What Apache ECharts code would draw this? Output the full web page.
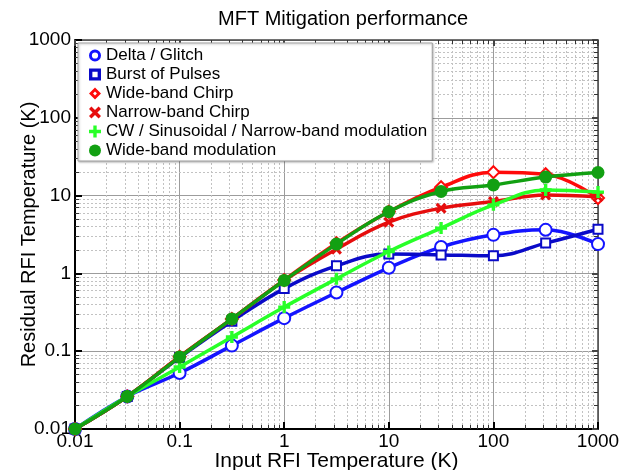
<!DOCTYPE html>
<html>
<head>
<meta charset="utf-8">
<script src="https://cdn.jsdelivr.net/npm/echarts@6/dist/echarts.min.js"></script>
<style>
  html, body { margin: 0; padding: 0; background: #fff; }
  #chart { width: 621px; height: 470px; }
</style>
</head>
<body>
<div id="chart"></div>
<script>
// Input RFI temperature (K) at which each detector was evaluated
const inputTemps = [0.01, 0.0316, 0.1, 0.316, 1, 3.16, 10, 31.6, 100, 316, 1000];

// Residual RFI temperature (K) after mitigation, one list per RFI type
const deltaGlitch    = [0.01, 0.0262, 0.0524, 0.118, 0.266, 0.568, 1.18, 2.18, 3.13, 3.63, 2.38];
const burstPulses    = [0.01, 0.0262, 0.083, 0.243, 0.638, 1.25, 1.77, 1.73, 1.68, 2.45, 3.70];
const wideChirp      = [0.01, 0.0262, 0.085, 0.26, 0.82, 2.45, 6.2, 12.8, 20.0, 18.8, 9.3];
const narrowChirp    = [0.01, 0.0262, 0.085, 0.26, 0.81, 2.05, 4.56, 6.89, 8.38, 10.2, 9.7];
const cwSinusoidal   = [0.01, 0.0262, 0.0626, 0.152, 0.369, 0.852, 1.91, 3.82, 7.6, 11.8, 11.1];
const wideModulation = [0.01, 0.0262, 0.084, 0.26, 0.81, 2.38, 6.2, 11.3, 13.7, 17.3, 19.8];

const seriesNames = [
  'Delta / Glitch',
  'Burst of Pulses',
  'Wide-band Chirp',
  'Narrow-band Chirp',
  'CW / Sinusoidal / Narrow-band modulation',
  'Wide-band modulation'
];

// Decade starts and in-between multipliers for the dotted minor grid
const decades = [0.01, 0.1, 1, 10, 100];
const minorSteps = [2, 3, 4, 5, 6, 7, 8, 9];
const tickLabels = { '0.01': '0.01', '0.1': '0.1', '1': '1', '10': '10', '100': '100', '1000': '1000' };

const FONT = 'Liberation Sans, Arial, sans-serif';

// Marker shapes (filled outlines so the legend shows bold hollow symbols)
const CROSS = 'path://M0,2 L2,0 L5,3 L8,0 L10,2 L7,5 L10,8 L8,10 L5,7 L2,10 L0,8 L3,5 Z';
const PLUS = 'path://M3.6,0 H6.4 V3.6 H10 V6.4 H6.4 V10 H3.6 V6.4 H0 V3.6 H3.6 Z';
const RING = 'path://M5,0 A5,5 0 1,1 5,10 A5,5 0 1,1 5,0 Z M5,2.4 A2.6,2.6 0 1,0 5,7.6 A2.6,2.6 0 1,0 5,2.4 Z';
const SQUARE_RING = 'path://M0,0 H10 V10 H0 Z M2.8,2.8 V7.2 H7.2 V2.8 Z';
const DIAMOND_RING = 'path://M5,-0.6 L10.6,5 L5,10.6 L-0.6,5 Z M5,3.2 L3.2,5 L5,6.8 L6.8,5 Z';

function pairs(ys) { return inputTemps.map((x, i) => [x, ys[i]]); }

function fmt(v) {
  const key = String(+v.toPrecision(6));
  return tickLabels[key] !== undefined ? tickLabels[key] : '';
}

const minorValues = [];
decades.forEach(d => minorSteps.forEach(m => minorValues.push(+(d * m).toPrecision(6))));

const gridLines = [];
minorValues.forEach(v => { gridLines.push({ xAxis: v }); gridLines.push({ yAxis: v }); });

function makeSeries(name, ys, color, symbol, size, borderWidth, z) {
  return {
    name: name,
    type: 'line',
    data: pairs(ys),
    smooth: 0.4,
    symbol: symbol,
    symbolSize: size,
    showSymbol: true,
    z: z,
    lineStyle: { color: color, width: 3.5 },
    itemStyle: { color: color, borderColor: color, borderWidth: borderWidth }
  };
}

const chart = echarts.init(document.getElementById('chart'), null, { renderer: 'canvas' });

const mainAxisLine = { show: true, lineStyle: { color: '#000', width: 2 } };
const frameAxisLine = { show: true, lineStyle: { color: '#444', width: 1.5 } };
const minorTickStyle = { show: true, splitNumber: 9, length: 4, lineStyle: { color: '#333', width: 1 } };

const legendIcon = (name, icon) => ({ name: name, icon: icon, itemStyle: { borderWidth: 0 } });

chart.setOption({
  animation: false,
  backgroundColor: '#fff',
  textStyle: { fontFamily: FONT },
  title: {
    text: 'MFT Mitigation performance',
    left: 218,
    top: 9,
    padding: 0,
    textStyle: { fontSize: 20, fontWeight: 'normal', color: '#000', fontFamily: FONT }
  },
  grid: { left: 75, right: 23, top: 40, bottom: 41, containLabel: false, outerBoundsMode: 'none' },
  legend: {
    orient: 'vertical',
    left: 78,
    top: 43,
    padding: [3, 5, 1, 11],
    itemWidth: 12,
    itemHeight: 12,
    itemGap: 0,
    backgroundColor: '#fff',
    borderColor: '#a0a0a0',
    borderWidth: 1,
    shadowColor: 'rgba(0,0,0,0.25)',
    shadowBlur: 2,
    shadowOffsetX: 1,
    shadowOffsetY: 1,
    textStyle: { fontSize: 17, lineHeight: 19, color: '#000', fontFamily: FONT },
    data: [
      legendIcon(seriesNames[0], RING),
      legendIcon(seriesNames[1], SQUARE_RING),
      legendIcon(seriesNames[2], DIAMOND_RING),
      legendIcon(seriesNames[3], CROSS),
      legendIcon(seriesNames[4], PLUS),
      legendIcon(seriesNames[5], 'circle')
    ]
  },
  xAxis: [
    {
      type: 'log', logBase: 10, min: 0.01, max: 1000, position: 'bottom',
      name: 'Input RFI Temperature (K)', nameLocation: 'middle', nameGap: 22, nameMoveOverlap: false,
      nameTextStyle: { fontSize: 21, color: '#000', fontFamily: FONT },
      axisLine: mainAxisLine,
      axisTick: { show: true, inside: true, length: 7, lineStyle: { color: '#000', width: 2 } },
      minorTick: minorTickStyle,
      axisLabel: { fontSize: 19, color: '#000', margin: 3, formatter: fmt, fontFamily: FONT, hideOverlap: false },
      splitLine: { show: true, lineStyle: { color: '#9c9c9c', width: 1 } }
    },
    {
      type: 'log', logBase: 10, min: 0.01, max: 1000, position: 'top',
      axisLine: frameAxisLine,
      axisTick: { show: true, inside: true, length: 6, lineStyle: { color: '#444', width: 2 } },
      minorTick: minorTickStyle,
      axisLabel: { show: false },
      splitLine: { show: false }
    }
  ],
  yAxis: [
    {
      type: 'log', logBase: 10, min: 0.01, max: 1000, position: 'left',
      name: 'Residual RFI Temperature (K)', nameLocation: 'middle', nameGap: 36, nameMoveOverlap: false,
      nameTextStyle: { fontSize: 20, color: '#000', fontFamily: FONT },
      axisLine: mainAxisLine,
      axisTick: { show: true, inside: true, length: 7, lineStyle: { color: '#000', width: 2 } },
      minorTick: minorTickStyle,
      axisLabel: { fontSize: 19, color: '#000', margin: 4, formatter: fmt, fontFamily: FONT, hideOverlap: false },
      splitLine: { show: true, lineStyle: { color: '#9c9c9c', width: 1 } }
    },
    {
      type: 'log', logBase: 10, min: 0.01, max: 1000, position: 'right',
      axisLine: frameAxisLine,
      axisTick: { show: true, inside: true, length: 6, lineStyle: { color: '#444', width: 2 } },
      minorTick: minorTickStyle,
      axisLabel: { show: false },
      splitLine: { show: false }
    }
  ],
  series: [
    {
      name: 'minor grid',
      type: 'line',
      data: [],
      silent: true,
      z: 0,
      markLine: {
        silent: true,
        z: 0,
        symbol: 'none',
        animation: false,
        label: { show: false },
        lineStyle: { color: '#c2c2c2', type: [2, 2], width: 1 },
        emphasis: { disabled: true },
        data: gridLines
      }
    },
    makeSeries(seriesNames[0], deltaGlitch, '#1414ff', 'emptyCircle', 12, 3, 3),
    makeSeries(seriesNames[1], burstPulses, '#0a0ac8', 'emptyRect', 9, 3, 4),
    makeSeries(seriesNames[2], wideChirp, '#ff0a0a', 'emptyDiamond', 12, 3, 5),
    makeSeries(seriesNames[3], narrowChirp, '#e60d0d', CROSS, 11, 0, 6),
    makeSeries(seriesNames[4], cwSinusoidal, '#28ff28', PLUS, 12, 0, 7),
    makeSeries(seriesNames[5], wideModulation, '#12a012', 'circle', 13, 0, 8)
  ]
});
</script>
</body>
</html>
